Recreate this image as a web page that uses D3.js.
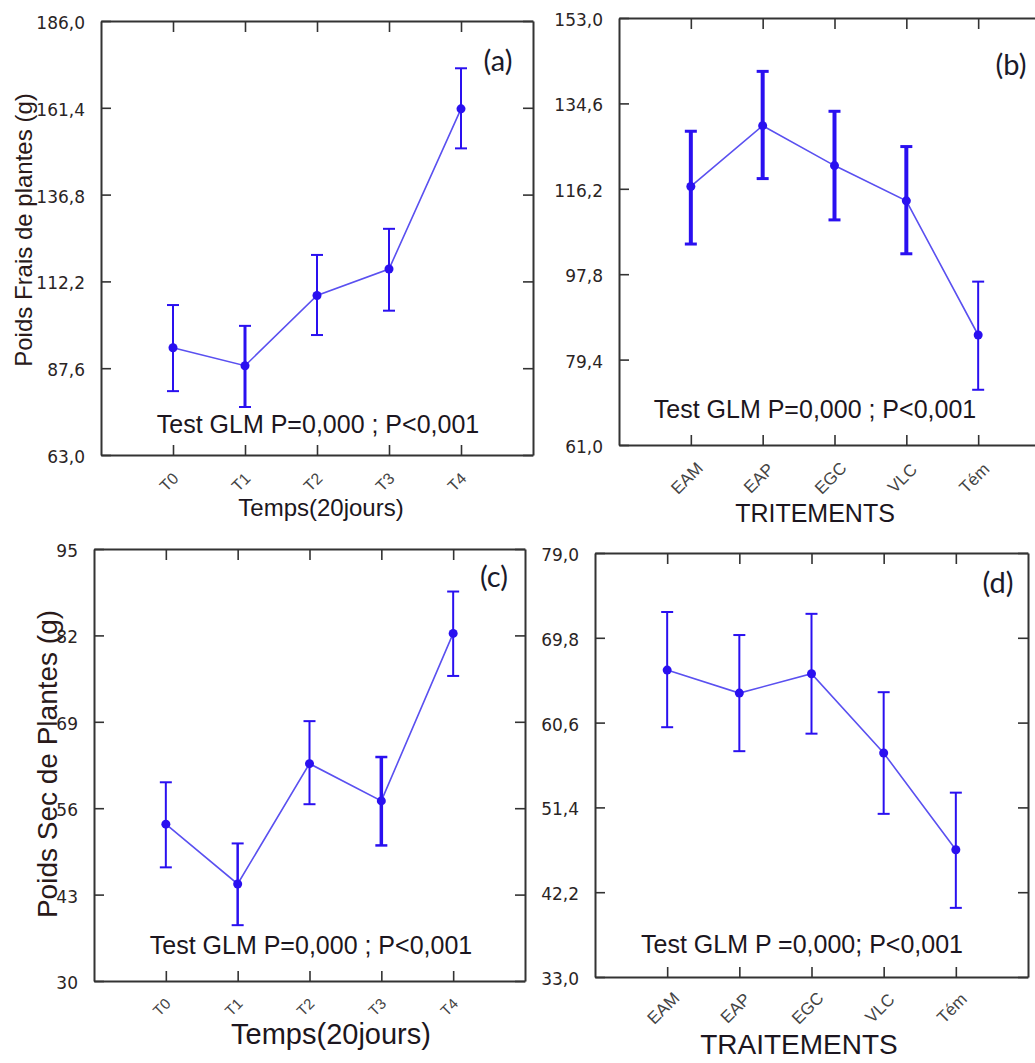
<!DOCTYPE html>
<html>
<head>
<meta charset="utf-8">
<script src="https://cdn.jsdelivr.net/npm/d3@7"></script>
<style>
  body { margin: 0; background: #fff; }
  svg { display: block; }
</style>
</head>
<body>
<div id="chart"></div>
<script>
// categories
var timeLabels = ["T0", "T1", "T2", "T3", "T4"];
var treatLabels = ["EAM", "EAP", "EGC", "VLC", "Tém"];

// (a) poids frais / temps
var freshMean = [93.4, 88.3, 108.2, 115.7, 161.1];
var freshLow  = [81.1, 76.6, 97.0, 103.9, 149.9];
var freshHigh = [105.5, 99.6, 119.7, 127.1, 172.6];
// (b) poids frais / traitements
var freshTrMean = [116.7, 129.8, 121.2, 113.6, 84.7];
var freshTrLow  = [104.3, 118.4, 109.5, 102.2, 72.9];
var freshTrHigh = [128.6, 141.5, 132.9, 125.3, 96.2];
// (c) poids sec / temps
var dryMean = [53.6, 44.6, 62.7, 57.1, 82.3];
var dryLow  = [47.1, 38.4, 56.6, 50.4, 75.9];
var dryHigh = [59.9, 50.7, 69.1, 63.7, 88.6];
// (d) poids sec / traitements
var dryTrMean = [66.3, 63.8, 65.9, 57.3, 46.8];
var dryTrLow  = [60.1, 57.5, 59.4, 50.7, 40.5];
var dryTrHigh = [72.6, 70.1, 72.4, 63.9, 53.0];

// tick values
var ticksA = [63, 87.6, 112.2, 136.8, 161.4, 186];
var ticksB = [61, 79.4, 97.8, 116.2, 134.6, 153];
var ticksC = [30, 43, 56, 69, 82, 95];
var ticksD = [33, 42.2, 51.4, 60.6, 69.8, 79];

var comma1 = function(d) { return d.toFixed(1).replace(".", ","); };
var intFmt = function(d) { return String(d); };

var panels = [
  { tag: "(a)", cats: timeLabels, mean: freshMean, low: freshLow, high: freshHigh,
    ticks: ticksA, fmt: comma1, left: 101, right: 533, top: 21, bottom: 455,
    xTitle: "Temps(20jours)", xTitleX: 321, xTitleY: 516, xTitleSize: 24,
    yTitle: "Poids Frais de plantes (g)", yTitleX: 24, yTitleY: 230, yTitleSize: 24,
    glm: "Test GLM P=0,000 ; P<0,001", glmX: 318, glmY: 433,
    tagX: 498, tagY: 71, lblSize: 16, lblDy: 27, barW: [2, 3, 2, 2, 2] },
  { tag: "(b)", cats: treatLabels, mean: freshTrMean, low: freshTrLow, high: freshTrHigh,
    ticks: ticksB, fmt: comma1, left: 619, right: 1050, top: 18, bottom: 445,
    xTitle: "TRITEMENTS", xTitleX: 815, xTitleY: 522, xTitleSize: 25,
    glm: "Test GLM P=0,000 ; P<0,001", glmX: 815, glmY: 418,
    tagX: 1011, tagY: 75, lblSize: 17, lblDy: 33, barW: [4, 4, 4, 4, 2] },
  { tag: "(c)", cats: timeLabels, mean: dryMean, low: dryLow, high: dryHigh,
    ticks: ticksC, fmt: intFmt, left: 94, right: 525, top: 549, bottom: 981,
    xTitle: "Temps(20jours)", xTitleX: 331, xTitleY: 1044, xTitleSize: 29,
    yTitle: "Poids Sec de Plantes (g)", yTitleX: 47, yTitleY: 764, yTitleSize: 28,
    glm: "Test GLM P=0,000 ; P<0,001", glmX: 311, glmY: 954,
    tagX: 494, tagY: 587, lblSize: 15, lblDy: 26, barW: [2, 2.5, 2, 3.5, 2] },
  { tag: "(d)", cats: treatLabels, mean: dryTrMean, low: dryTrLow, high: dryTrHigh,
    ticks: ticksD, fmt: comma1, left: 595, right: 1028, top: 553, bottom: 977,
    xTitle: "TRAITEMENTS", xTitleX: 799, xTitleY: 1054, xTitleSize: 28,
    glm: "Test GLM P =0,000; P<0,001", glmX: 802, glmY: 953,
    tagX: 998, tagY: 593, lblSize: 17, lblDy: 31, barW: [2, 2, 2, 2, 2] }
];

var svg = d3.select("#chart").append("svg")
  .attr("width", 1035)
  .attr("height", 1063);

var blue = "#2a10f0";
var lineBlue = "#5a50f0";
var axisCol = "#333";

panels.forEach(function(p) {
  var n = p.cats.length;
  var x = d3.scaleLinear().domain([-1, n]).range([p.left, p.right]);
  var y = d3.scaleLinear().domain([p.ticks[0], p.ticks[p.ticks.length - 1]]).range([p.bottom, p.top]);
  var idx = d3.range(n);
  var g = svg.append("g");

  // frame + inward ticks on all four sides
  var yLeft = g.append("g").attr("transform", "translate(" + p.left + ",0)")
    .call(d3.axisLeft(y).tickValues(p.ticks).tickFormat(p.fmt).tickSizeInner(-10).tickSizeOuter(0).tickPadding(6));
  yLeft.selectAll("text")
    .attr("transform", "translate(-10,2)")
    .style("font-family", "'DejaVu Sans', sans-serif").style("font-size", "17px").attr("fill", "#2a2424");
  g.append("g").attr("transform", "translate(" + p.right + ",0)")
    .call(d3.axisRight(y).tickValues(p.ticks).tickFormat("").tickSizeInner(-10).tickSizeOuter(0));
  g.append("g").attr("transform", "translate(0," + p.bottom + ")")
    .call(d3.axisBottom(x).tickValues(idx).tickFormat("").tickSizeInner(-10).tickSizeOuter(0));
  g.append("g").attr("transform", "translate(0," + p.top + ")")
    .call(d3.axisTop(x).tickValues(idx).tickFormat("").tickSizeInner(-11).tickSizeOuter(0));
  g.selectAll(".domain").attr("stroke", axisCol).attr("stroke-width", 2);
  g.selectAll(".tick line").attr("stroke", axisCol).attr("stroke-width", 1.6);

  // rotated category labels
  g.selectAll(".xlab")
    .data(p.cats)
    .enter()
    .append("text")
      .attr("class", "xlab")
      .attr("transform", function(d, i) {
        return "translate(" + (x(i) - 4) + "," + (p.bottom + p.lblDy) + ") rotate(-45)";
      })
      .attr("text-anchor", "middle")
      .attr("dy", "0.35em")
      .style("font-family", "'Liberation Sans', Arial, sans-serif")
      .style("font-size", p.lblSize + "px")
      .attr("fill", "#444")
      .text(function(d) { return d; });

  // connecting line
  g.append("path")
    .datum(idx)
    .attr("fill", "none")
    .attr("stroke", lineBlue)
    .attr("stroke-width", 1.6)
    .attr("d", d3.line().x(function(i) { return x(i); }).y(function(i) { return y(p.mean[i]); }));

  // error bars
  var bars = g.selectAll(".bar").data(idx).enter().append("g").attr("class", "bar");
  bars.append("line")
    .attr("x1", function(i) { return x(i); }).attr("x2", function(i) { return x(i); })
    .attr("y1", function(i) { return y(p.low[i]); }).attr("y2", function(i) { return y(p.high[i]); })
    .attr("stroke", blue).attr("stroke-width", function(i) { return p.barW[i]; });
  [p.low, p.high].forEach(function(arr) {
    bars.append("line")
      .attr("x1", function(i) { return x(i) - 6; }).attr("x2", function(i) { return x(i) + 6; })
      .attr("y1", function(i) { return y(arr[i]); }).attr("y2", function(i) { return y(arr[i]); })
      .attr("stroke", blue).attr("stroke-width", function(i) { return Math.max(2, p.barW[i] - 1); });
  });

  g.selectAll(".pt")
    .data(idx)
    .enter()
    .append("circle")
      .attr("cx", function(i) { return x(i); })
      .attr("cy", function(i) { return y(p.mean[i]); })
      .attr("r", 4.5)
      .attr("fill", blue);

  // texts
  g.append("text")
    .attr("x", p.glmX).attr("y", p.glmY)
    .attr("text-anchor", "middle")
    .style("font-family", "'Liberation Sans', Arial, sans-serif").style("font-size", "25px")
    .attr("fill", "#1c1620")
    .text(p.glm);

  g.append("text")
    .attr("x", p.xTitleX).attr("y", p.xTitleY)
    .attr("text-anchor", "middle")
    .style("font-family", "'Liberation Sans', Arial, sans-serif").style("font-size", p.xTitleSize + "px")
    .attr("fill", "#1c1620")
    .text(p.xTitle);

  if (p.yTitle) {
    g.append("text")
      .attr("transform", "translate(" + p.yTitleX + "," + p.yTitleY + ") rotate(-90)")
      .attr("text-anchor", "middle")
      .attr("dy", "0.35em")
      .style("font-family", "'Liberation Sans', Arial, sans-serif").style("font-size", p.yTitleSize + "px")
      .attr("fill", "#2a1a1a")
      .text(p.yTitle);
  }

  g.append("text")
    .attr("x", p.tagX).attr("y", p.tagY)
    .attr("text-anchor", "middle")
    .style("font-family", "Lato, 'Open Sans', sans-serif").style("font-size", "29px")
    .attr("fill", "#1a1a2a")
    .text(p.tag);
});
</script>
</body>
</html>
